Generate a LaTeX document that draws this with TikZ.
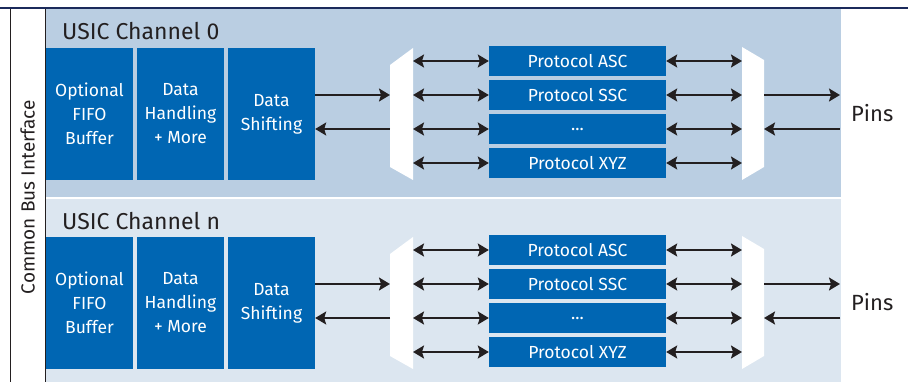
\documentclass[tikz,border=0pt]{standalone}
\usepackage{fontspec}
\setmainfont{Fira Sans}
\usetikzlibrary{arrows.meta}
\definecolor{ifxblue}{HTML}{0066B3}
\definecolor{chzero}{HTML}{BACEE2}
\definecolor{chn}{HTML}{DCE6F0}
\definecolor{topline}{HTML}{1B2A5B}
\definecolor{arrowgray}{HTML}{231F20}
\begin{document}
\begin{tikzpicture}[x=1pt, y=-1pt,
  >={Stealth[length=11pt,width=13pt,inset=2pt]},
  blk/.style={fill=ifxblue, text=white, minimum width=87pt, minimum height=132pt, inner sep=0pt, align=center, font=\fontsize{17.5}{24}\selectfont, execute at begin node={\vspace*{5pt}}},
  proto/.style={fill=ifxblue, text=white, minimum width=177pt, minimum height=30pt, inner sep=0pt, font=\fontsize{17.5}{20}\selectfont},
  arr/.style={line width=1.6pt, draw=arrowgray, fill=arrowgray},
  title/.style={anchor=west, inner sep=0pt, text=arrowgray, font=\fontsize{23}{27}\selectfont}]
\useasboundingbox (0,0) rectangle (908,382);
% backgrounds
\fill[chzero] (46,9.5) rectangle (841,197);
\fill[chn] (46,199) rectangle (841,390);
\draw[topline, line width=2pt] (0,8) -- (908,8);
\draw[arrowgray, line width=1pt] (10,9) -- (10,390) (45,9) -- (45,390);
\node[rotate=90, text=arrowgray, font=\fontsize{19}{22}\selectfont] (cbi) at (27.5,197) {Common Bus Interface};
% channel 0
\node[title] (title0) at (62,31) {USIC Channel 0};
\node[blk] (fifo0) at (89.5,114) {Optional\\FIFO\\Buffer};
\node[blk] (hand0) at (180.5,114) {Data\\Handling\\+ More};
\node[blk] (shift0) at (271.5,114) {Data\\Shifting};
\node[proto] (asc0) at (577.5,61) {Protocol ASC};
\node[proto] (ssc0) at (577.5,95) {Protocol SSC};
\node[proto] (dots0) at (577.5,129) {...};
\node[proto] (xyz0) at (577.5,163) {Protocol XYZ};
\fill[white] (390,65) -- (413,48) -- (413,180) -- (390,167) -- cycle;
\fill[white] (742,47) -- (764,60) -- (764,167) -- (742,180) -- cycle;
\coordinate (ml0a) at (390,95);
\coordinate (ml0b) at (390,129);
\coordinate (mr0a) at (764,95);
\coordinate (mr0b) at (764,129);
\coordinate (pin0a) at (840,95);
\coordinate (pin0b) at (840,129);
\node[anchor=west, inner sep=0pt, text=arrowgray, font=\fontsize{22}{26}\selectfont] (pins0) at (851,113) {Pins};
\draw[arr, ->] (shift0.east |- ml0a) -- (ml0a);
\draw[arr, <-] (shift0.east |- ml0b) -- (ml0b);
\draw[arr, <->] (413,61) -- (asc0.west);
\draw[arr, <->] (413,95) -- (ssc0.west);
\draw[arr, <->] (413,129) -- (dots0.west);
\draw[arr, <->] (413,163) -- (xyz0.west);
\draw[arr, <->] (asc0.east) -- (742,61);
\draw[arr, <->] (ssc0.east) -- (742,95);
\draw[arr, <->] (dots0.east) -- (742,129);
\draw[arr, <->] (xyz0.east) -- (742,163);
\draw[arr, ->] (mr0a) -- (pin0a);
\draw[arr, <-] (mr0b) -- (pin0b);
% channel n
\node[title] (titlen) at (62,221) {USIC Channel n};
\node[blk] (fifon) at (89.5,303) {Optional\\FIFO\\Buffer};
\node[blk] (handn) at (180.5,303) {Data\\Handling\\+ More};
\node[blk] (shiftn) at (271.5,303) {Data\\Shifting};
\node[proto] (ascn) at (577.5,250) {Protocol ASC};
\node[proto] (sscn) at (577.5,284) {Protocol SSC};
\node[proto] (dotsn) at (577.5,318) {...};
\node[proto] (xyzn) at (577.5,352) {Protocol XYZ};
\fill[white] (390,254) -- (413,237) -- (413,369) -- (390,356) -- cycle;
\fill[white] (742,236) -- (764,249) -- (764,356) -- (742,369) -- cycle;
\coordinate (mlna) at (390,284);
\coordinate (mlnb) at (390,318);
\coordinate (mrna) at (764,284);
\coordinate (mrnb) at (764,318);
\coordinate (pinna) at (840,284);
\coordinate (pinnb) at (840,318);
\node[anchor=west, inner sep=0pt, text=arrowgray, font=\fontsize{22}{26}\selectfont] (pinsn) at (851,302) {Pins};
\draw[arr, ->] (shiftn.east |- mlna) -- (mlna);
\draw[arr, <-] (shiftn.east |- mlnb) -- (mlnb);
\draw[arr, <->] (413,250) -- (ascn.west);
\draw[arr, <->] (413,284) -- (sscn.west);
\draw[arr, <->] (413,318) -- (dotsn.west);
\draw[arr, <->] (413,352) -- (xyzn.west);
\draw[arr, <->] (ascn.east) -- (742,250);
\draw[arr, <->] (sscn.east) -- (742,284);
\draw[arr, <->] (dotsn.east) -- (742,318);
\draw[arr, <->] (xyzn.east) -- (742,352);
\draw[arr, ->] (mrna) -- (pinna);
\draw[arr, <-] (mrnb) -- (pinnb);
\end{tikzpicture}
\end{document}
